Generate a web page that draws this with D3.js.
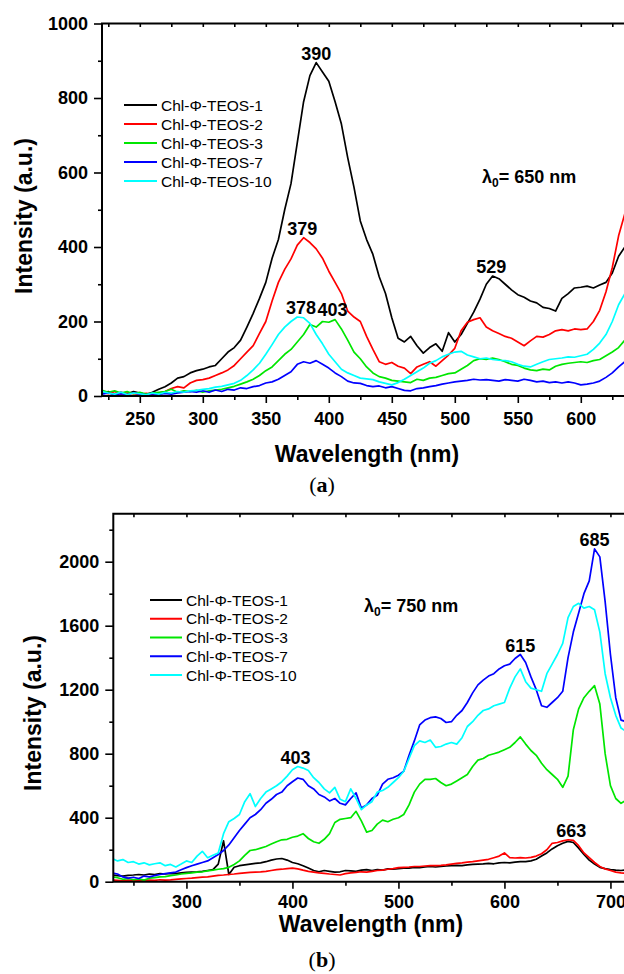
<!DOCTYPE html>
<html>
<head>
<meta charset="utf-8">
<script src="https://cdn.jsdelivr.net/npm/d3@7/dist/d3.min.js"></script>
<style>
  body { margin: 0; background: #fff; }
  svg { display: block; font-family: "Liberation Sans", Arial, sans-serif; }
</style>
</head>
<body>
<div class="container"></div>
<script>
// DATA

const seriesNames = ["Chl-\u03A6-TEOS-1", "Chl-\u03A6-TEOS-2", "Chl-\u03A6-TEOS-3", "Chl-\u03A6-TEOS-7", "Chl-\u03A6-TEOS-10"];
const seriesColors = ["#000000", "#ff0000", "#00e600", "#0000ff", "#00ffff"];

// panel (a), excitation 650 nm, one value every 5 nm from 220 to 640 nm
const wavelengthA = [
  220, 225, 230, 235, 240, 245, 250, 255, 260, 265,
  270, 275, 280, 285, 290, 295, 300, 305, 310, 315,
  320, 325, 330, 335, 340, 345, 350, 355, 360, 365,
  370, 375, 380, 385, 390, 395, 400, 405, 410, 415,
  420, 425, 430, 435, 440, 445, 450, 455, 460, 465,
  470, 475, 480, 485, 490, 495, 500, 505, 510, 515,
  520, 525, 530, 535, 540, 545, 550, 555, 560, 565,
  570, 575, 580, 585, 590, 595, 600, 605, 610, 615,
  620, 625, 630, 635, 640];
const teos1A = [
  8, 12, 5, 10, 6, 12, 8, 4, 10, 18,
  25, 35, 48, 52, 62, 68, 72, 78, 82, 100,
  118, 130, 150, 185, 222, 262, 305, 370, 420, 500,
  570, 680, 790, 860, 895, 870, 845, 790, 730, 640,
  560, 470, 420, 380, 320, 275, 210, 155, 145, 160,
  135, 115, 130, 140, 120, 170, 145, 165, 195, 225,
  260, 300, 322, 315, 300, 285, 272, 265, 255, 250,
  238, 235, 228, 262, 275, 290, 292, 295, 290, 298,
  305, 330, 375, 400, 420];
const teos2A = [
  10, 6, 12, 5, 8, 6, 4, 7, 5, 8,
  12, 20, 25, 22, 35, 42, 44, 48, 55, 62,
  70, 82, 100, 118, 135, 168, 200, 255, 305, 340,
  368, 405, 425, 412, 395, 370, 335, 305, 275, 228,
  212, 200, 160, 125, 92, 85, 90, 80, 75, 60,
  78, 85, 92, 80, 95, 110, 128, 175, 198, 205,
  210, 185, 175, 168, 160, 155, 145, 135, 148, 160,
  158, 165, 175, 178, 175, 180, 178, 180, 200, 230,
  280, 345, 430, 490, 520];
const teos3A = [
  15, 10, 14, 8, 12, 6, 10, 5, 8, 10,
  12, 18, 10, 14, 12, 15, 10, 14, 16, 18,
  22, 26, 32, 38, 45, 55, 68, 78, 95, 112,
  125, 145, 165, 192, 185, 200, 198, 205, 180, 150,
  118, 100, 78, 62, 52, 48, 42, 40, 38, 36,
  45, 42, 48, 50, 55, 60, 62, 72, 82, 95,
  100, 98, 102, 98, 92, 85, 82, 75, 70, 68,
  72, 70, 80, 85, 88, 90, 92, 90, 95, 98,
  108, 118, 130, 150, 165];
const teos7A = [
  5, 8, 3, 6, 4, 8, 5, 3, 6, 4,
  7, 5, 8, 10, 12, 10, 14, 10, 16, 12,
  18, 16, 22, 20, 25, 28, 35, 38, 45, 55,
  65, 85, 92, 88, 95, 85, 75, 62, 52, 40,
  35, 34, 28, 25, 27, 22, 25, 20, 15, 14,
  20, 22, 25, 28, 32, 35, 38, 40, 42, 45,
  43, 44, 42, 40, 44, 42, 40, 45, 42, 38,
  40, 36, 38, 35, 38, 35, 30, 32, 35, 40,
  50, 62, 78, 92, 100];
const teos10A = [
  12, 8, 5, 10, 4, 8, 6, 3, 8, 5,
  10, 8, 12, 10, 14, 15, 18, 20, 24, 26,
  30, 34, 42, 55, 70, 88, 112, 138, 165, 185,
  200, 212, 210, 195, 165, 140, 112, 92, 72, 62,
  55, 48, 46, 44, 38, 34, 30, 36, 45, 55,
  65, 75, 88, 95, 105, 112, 118, 120, 110, 105,
  100, 102, 98, 96, 95, 92, 85, 80, 78, 85,
  92, 98, 100, 102, 105, 104, 108, 112, 125, 142,
  165, 200, 245, 275, 300];

// panel (b), excitation 750 nm, one value every 5 nm from 230 to 715 nm
const wavelengthB = [
  230, 235, 240, 245, 250, 255, 260, 265, 270, 275,
  280, 285, 290, 295, 300, 305, 310, 315, 320, 325,
  330, 335, 340, 345, 350, 355, 360, 365, 370, 375,
  380, 385, 390, 395, 400, 405, 410, 415, 420, 425,
  430, 435, 440, 445, 450, 455, 460, 465, 470, 475,
  480, 485, 490, 495, 500, 505, 510, 515, 520, 525,
  530, 535, 540, 545, 550, 555, 560, 565, 570, 575,
  580, 585, 590, 595, 600, 605, 610, 615, 620, 625,
  630, 635, 640, 645, 650, 655, 660, 665, 670, 675,
  680, 685, 690, 695, 700, 705, 710, 715];
const teos1B = [
  42, 38, 35, 40, 42, 45, 42, 48, 45, 50,
  48, 52, 50, 55, 58, 60, 62, 65, 70, 75,
  110, 255, 45, 90, 100, 105, 110, 115, 118, 125,
  135, 142, 145, 135, 120, 112, 100, 85, 70, 62,
  70, 65, 60, 62, 70, 68, 65, 72, 75, 70,
  75, 72, 80, 78, 82, 85, 85, 90, 88, 92,
  95, 92, 95, 98, 100, 102, 100, 105, 108, 110,
  112, 115, 112, 118, 120, 118, 122, 125, 125, 130,
  140, 160, 180, 205, 225, 240, 252, 245, 210, 170,
  135, 110, 90, 82, 75, 72, 70, 75];
const teos2B = [
  10, 8, 5, 10, 6, 5, 8, 10, 8, 12,
  10, 12, 15, 18, 20, 22, 25, 28, 30, 35,
  40, 42, 45, 48, 52, 55, 58, 60, 62, 65,
  70, 75, 78, 82, 85, 80, 72, 65, 60, 55,
  52, 48, 45, 42, 50, 55, 58, 62, 60, 65,
  70, 72, 78, 82, 88, 90, 92, 95, 95, 98,
  100, 100, 102, 105, 110, 115, 118, 122, 125, 130,
  135, 140, 150, 160, 180, 150, 148, 150, 148, 152,
  160, 175, 200, 240, 245, 255, 262, 258, 225, 180,
  150, 120, 95, 80, 70, 60, 55, 52];
const teos3B = [
  30, 25, 15, 20, 12, 18, 10, 22, 25, 30,
  32, 38, 42, 48, 52, 55, 60, 62, 68, 72,
  78, 82, 90, 108, 130, 165, 195, 200, 210, 220,
  235, 250, 262, 265, 278, 285, 300, 270, 250, 240,
  265, 300, 370, 390, 395, 400, 440, 380, 310, 320,
  360, 385, 375, 390, 400, 420, 480, 560, 610, 640,
  640, 645, 620, 600, 610, 630, 650, 670, 720, 760,
  770, 790, 800, 810, 825, 840, 870, 905, 860, 820,
  790, 740, 700, 670, 640, 590, 660, 950, 1080, 1150,
  1190, 1225, 1110, 800, 600, 520, 490, 510];
const teos7B = [
  55, 48, 30, 22, 28, 20, 35, 30, 38, 45,
  50, 55, 60, 75, 88, 100, 110, 120, 130, 150,
  170, 195, 230, 275, 320, 360, 400, 420, 450, 490,
  515, 545, 560, 600, 625, 648, 640, 600, 580, 545,
  530, 505, 520, 490, 480, 520, 555, 460, 480, 520,
  540, 610, 640, 650, 665, 690, 790, 880, 980, 1010,
  1025, 1030, 1020, 995, 1000, 1040, 1070, 1120, 1180, 1230,
  1260, 1285, 1300, 1330, 1350, 1360, 1395, 1420, 1370, 1280,
  1200, 1100, 1090, 1120, 1150, 1190, 1400, 1560, 1680, 1800,
  1880, 2080, 2030, 1750, 1420, 1150, 1010, 1000];
const teos10B = [
  145, 130, 138, 120, 125, 110, 118, 105, 112, 118,
  100, 108, 92, 110, 130, 120, 160, 190, 150, 165,
  180, 300, 375, 395, 420, 500, 550, 470, 520, 560,
  580, 600, 625, 660, 700, 720, 710, 695, 650, 620,
  580, 555, 590, 515, 500, 580, 520, 450, 480, 500,
  560, 570, 590, 620, 650, 690, 770, 850, 880, 870,
  885, 840, 845, 860, 870, 860, 900, 970, 1000, 1040,
  1070, 1080, 1100, 1110, 1120, 1210, 1280, 1330, 1250, 1210,
  1200, 1190, 1300, 1360, 1420, 1490, 1650, 1720, 1740, 1710,
  1720, 1700, 1560, 1300, 1150, 1040, 960, 940];

// peak annotations: the label is the wavelength of the peak, placed on the peak height
const peakWavelengthA = [390, 379, 378, 403, 529];
const peakValueA = [895, 425, 212, 208, 322];
const peakWavelengthB = [403, 615, 685, 663];
const peakValueB = [720, 1420, 2080, 262];

// tick values
const xTicksA = [250, 300, 350, 400, 450, 500, 550, 600];
const xMinorA = [225, 275, 325, 375, 425, 475, 525, 575, 625];
const xTopA = [225, 250, 275, 300, 325, 350, 375, 400, 425, 450, 475, 500, 525, 550, 575, 600, 625];
const yTicksA = [0, 200, 400, 600, 800, 1000];
const yMinorA = [100, 300, 500, 700, 900];

const xTicksB = [300, 400, 500, 600, 700];
const xMinorB = [250, 350, 450, 550, 650];
const xTopB = [250, 300, 350, 400, 450, 500, 550, 600, 650, 700];
const yTicksB = [0, 400, 800, 1200, 1600, 2000];
const yMinorB = [200, 600, 1000, 1400, 1800, 2200];


// SETUP

const width = 624,
      height = 974;

const svg = d3.select("div.container")
  .append("svg")
  .attr("width", width)
  .attr("height", height);

// layout of the two panels, in pixels
const panels = [
  {
    id: "a",
    wavelength: wavelengthA,
    series: [teos1A, teos2A, teos3A, teos7A, teos10A],
    xDomain: [220, 650], xRange: [102, 102 + 430 * 1.26],
    yDomain: [0, 1000], yRange: [396, 23.5],
    xTicks: xTicksA, xMinor: xMinorA, xTop: xTopA, yTicks: yTicksA, yMinor: yMinorA,
    xPad: 9,
    peaksX: peakWavelengthA, peaksY: peakValueA,
    xTitle: [367, 462], yTitle: [32, 216], tag: [322, 492],
    legend: { x1: 124, x2: 157, tx: 161, y: 105, step: 19 },
    lambda: [482, 183, "650"]
  },
  {
    id: "b",
    wavelength: wavelengthB,
    series: [teos1B, teos2B, teos3B, teos7B, teos10B],
    xDomain: [231, 720], xRange: [113.3, 113.3 + 489 * 1.06],
    yDomain: [0, 2300], yRange: [881.7, 881.7 - 2300 * 0.16],
    xTicks: xTicksB, xMinor: xMinorB, xTop: xTopB, yTicks: yTicksB, yMinor: yMinorB,
    xPad: 7,
    peaksX: peakWavelengthB, peaksY: peakValueB,
    xTitle: [371, 932], yTitle: [41, 713], tag: [322, 967],
    legend: { x1: 150, x2: 182, tx: 186, y: 600, step: 18.75 },
    lambda: [364, 612, "750"]
  }
];

panels.forEach(drawPanel);

function styleAxis(g) {
  g.select(".domain").remove();
  g.selectAll(".tick line").attr("stroke", "#000").attr("stroke-width", 1.6);
  g.selectAll(".tick text")
    .attr("fill", "#000")
    .attr("font-size", 18)
    .attr("font-weight", "bold")
    .attr("font-family", "'Liberation Sans', Arial, sans-serif");
}

function drawPanel(p) {
  const x = d3.scaleLinear().domain(p.xDomain).range(p.xRange);
  const y = d3.scaleLinear().domain(p.yDomain).range(p.yRange);
  const left = p.xRange[0], bottom = p.yRange[0], top = p.yRange[1];

  const g = svg.append("g").attr("id", "panel-" + p.id);

  // keep the spectra inside the frame
  svg.append("clipPath")
    .attr("id", "clip-" + p.id)
    .append("rect")
    .attr("x", left)
    .attr("y", top)
    .attr("width", width - left)
    .attr("height", bottom - top);

  const line = d3.line()
    .x((d, i) => x(p.wavelength[i]))
    .y((d) => y(d));

  g.append("g")
    .attr("clip-path", `url(#clip-${p.id})`)
    .selectAll("path")
    .data(p.series)
    .enter()
    .append("path")
    .attr("d", (d) => line(d))
    .attr("fill", "none")
    .attr("stroke", (d, i) => seriesColors[i])
    .attr("stroke-width", 1.7)
    .attr("stroke-linejoin", "round");

  // axes: major and minor ticks point outward, the top border carries small inward ticks
  g.append("g")
    .attr("transform", `translate(0, ${bottom})`)
    .call(d3.axisBottom(x).tickValues(p.xTicks).tickSize(7).tickPadding(p.xPad).tickFormat(d3.format("d")))
    .call(styleAxis);
  g.append("g")
    .attr("transform", `translate(0, ${bottom})`)
    .call(d3.axisBottom(x).tickValues(p.xMinor).tickSize(4).tickFormat(""))
    .call(styleAxis);
  g.append("g")
    .attr("transform", `translate(0, ${top})`)
    .call(d3.axisBottom(x).tickValues(p.xTop).tickSize(3.5).tickFormat(""))
    .call(styleAxis);
  g.append("g")
    .attr("transform", `translate(${left}, 0)`)
    .call(d3.axisLeft(y).tickValues(p.yTicks).tickSize(8).tickPadding(6).tickFormat(d3.format("d")))
    .call(styleAxis);
  g.append("g")
    .attr("transform", `translate(${left}, 0)`)
    .call(d3.axisLeft(y).tickValues(p.yMinor).tickSize(4).tickFormat(""))
    .call(styleAxis);

  // frame (the right border is cut off by the picture)
  g.append("path")
    .attr("d", `M${width + 5},${top}H${left}V${bottom}H${width + 5}`)
    .attr("fill", "none")
    .attr("stroke", "#000")
    .attr("stroke-width", 2);

  // peak labels
  g.selectAll("text.peak")
    .data(p.peaksX)
    .enter()
    .append("text")
    .attr("class", "peak")
    .attr("x", (d) => x(d))
    .attr("y", (d, i) => y(p.peaksY[i]) - 3)
    .attr("text-anchor", "middle")
    .attr("font-size", 18)
    .attr("font-weight", "bold")
    .text((d) => d);

  // excitation wavelength
  const lam = g.append("text")
    .attr("x", p.lambda[0])
    .attr("y", p.lambda[1])
    .attr("font-size", 18)
    .attr("font-weight", "bold");
  lam.append("tspan").text("\u03BB");
  lam.append("tspan").attr("font-size", 12).attr("dy", 4).text("0");
  lam.append("tspan").attr("dy", -4).text("= " + p.lambda[2] + " nm");

  // axis titles
  g.append("text")
    .attr("x", p.xTitle[0])
    .attr("y", p.xTitle[1])
    .attr("text-anchor", "middle")
    .attr("font-size", 23)
    .attr("font-weight", "bold")
    .text("Wavelength (nm)");
  g.append("text")
    .attr("transform", `translate(${p.yTitle[0]}, ${p.yTitle[1]}) rotate(-90)`)
    .attr("text-anchor", "middle")
    .attr("font-size", 23)
    .attr("font-weight", "bold")
    .text("Intensity (a.u.)");

  // legend
  const legend = g.append("g").attr("class", "legend");
  legend.selectAll("line")
    .data(seriesNames)
    .enter()
    .append("line")
    .attr("x1", p.legend.x1)
    .attr("x2", p.legend.x2)
    .attr("y1", (d, i) => p.legend.y + i * p.legend.step)
    .attr("y2", (d, i) => p.legend.y + i * p.legend.step)
    .attr("stroke", (d, i) => seriesColors[i])
    .attr("stroke-width", 2);
  legend.selectAll("text")
    .data(seriesNames)
    .enter()
    .append("text")
    .attr("x", p.legend.tx)
    .attr("y", (d, i) => p.legend.y + i * p.legend.step)
    .attr("dy", "0.36em")
    .attr("font-size", 15.5)
    .text((d) => d);

  // panel tag
  const tag = g.append("text")
    .attr("x", p.tag[0])
    .attr("y", p.tag[1])
    .attr("text-anchor", "middle")
    .attr("font-family", "'Liberation Serif', 'Times New Roman', serif")
    .attr("font-size", 22);
  tag.append("tspan").text("(");
  tag.append("tspan").attr("font-weight", "bold").text(p.id);
  tag.append("tspan").text(")");
}
</script>
</body>
</html>
